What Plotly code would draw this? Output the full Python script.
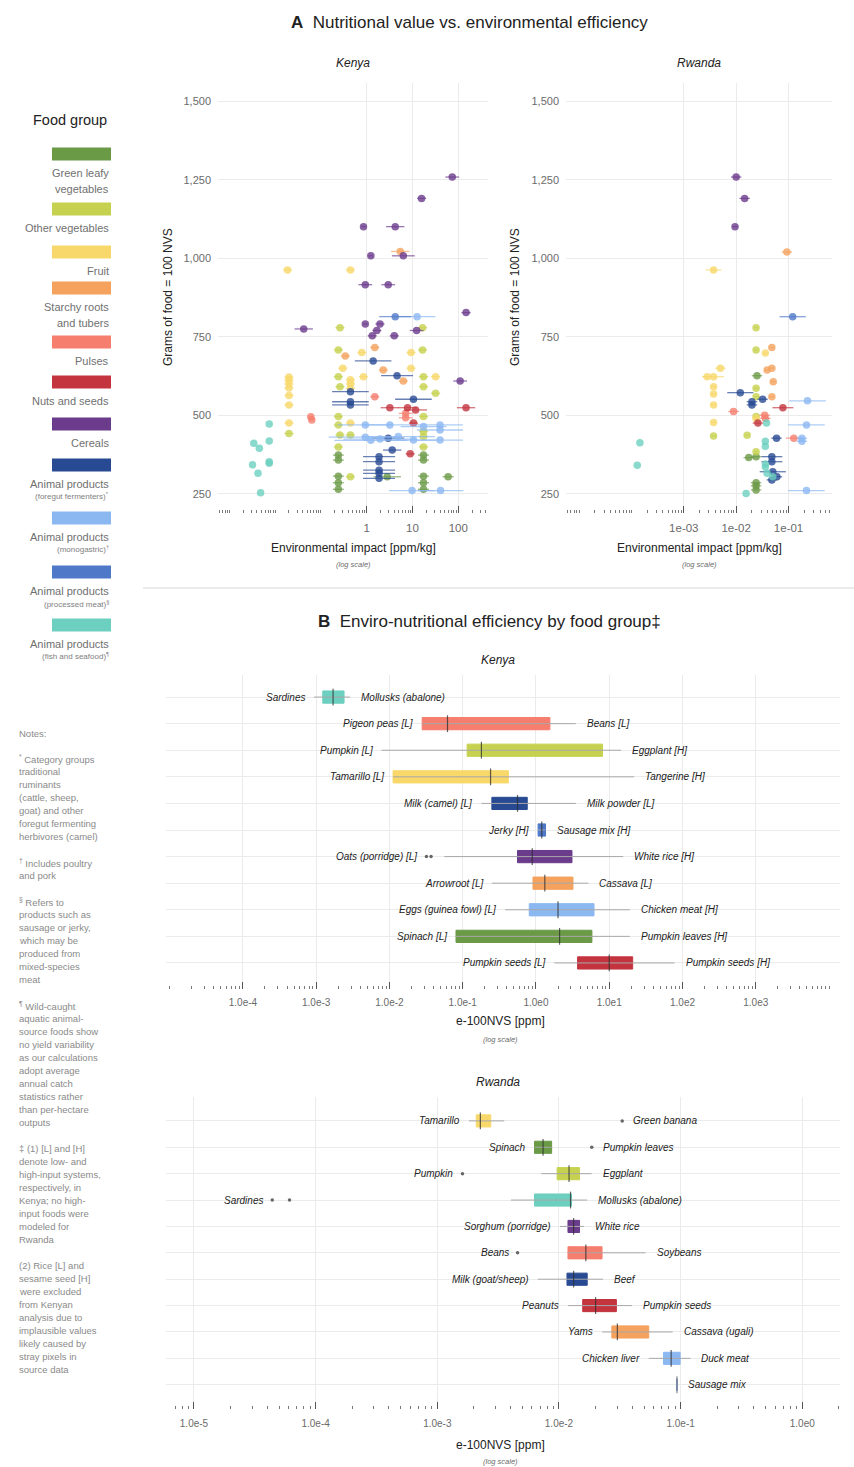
import math
import plotly.graph_objects as go

W, H = 854, 1467
FONT = "Liberation Sans"
TXT = "#222222"
GREY = "#6a6a6a"
GRID = "#ebebeb"


def PX(x):
    return x / W


def PY(y):
    return 1 - y / H


# ---------------- food groups ----------------
GROUP_KEYS = ["gl", "ov", "fr", "st", "pu", "nu", "ce", "fg", "mo", "pr", "fi"]
GROUP_COLORS = {
    "gl": "#6b9a47", "ov": "#c6d24f", "fr": "#f8d86a", "st": "#f4a25e",
    "pu": "#f57e6e", "nu": "#c3343f", "ce": "#6b3b8c", "fg": "#284a93",
    "mo": "#8cb8f2", "pr": "#4f78c8", "fi": "#6ccfbf",
}
LEGEND_MAIN = {
    "gl": ["Green leafy", "vegetables"], "ov": ["Other vegetables"], "fr": ["Fruit"],
    "st": ["Starchy roots", "and tubers"], "pu": ["Pulses"], "nu": ["Nuts and seeds"],
    "ce": ["Cereals"], "fg": ["Animal products"], "mo": ["Animal products"],
    "pr": ["Animal products"], "fi": ["Animal products"],
}
LEGEND_SUB = {
    "fg": "(foregut fermenters)<sup>*</sup>", "mo": "(monogastric)<sup>†</sup>",
    "pr": "(processed meat)<sup>§</sup>", "fi": "(fish and seafood)<sup>¶</sup>",
}

# ---------------- panel A: Kenya scatter ----------------
# environmental impact [ppm/kg], grams of food = 100 NVS, error half-width (log10 units)
kenya_impact = {
    "gl": [0.24, 0.24, 0.24, 0.24, 0.24, 17.4, 17.4, 17.4, 17.4, 17.4, 2.8, 60],
    "ov": [0.26, 0.24, 16.6, 16.6, 0.24, 17.4, 0.26, 17.4, 32, 0.24, 0.24, 17.4, 0.26,
           17.4, 0.24, 17.4, 0.44, 0.02, 0.44, 17.4],
    "fr": [0.0186, 0.44, 0.78, 9.3, 0.30, 9.3, 0.44, 0.85, 32, 0.44, 0.44, 0.02, 0.02,
           0.02, 0.02, 0.02, 0.02, 0.02, 0.44],
    "st": [5.4, 0.34, 1.5, 2.3, 6.3],
    "pu": [1.5, 7.1, 7.1, 0.06, 0.063],
    "nu": [3.2, 7.8, 11.7, 148, 10.5, 8.9],
    "ce": [74, 15.8, 0.85, 4.2, 1.23, 6.3, 0.93, 2.95, 148, 0.042, 0.93, 1.95, 1.66,
           1.32, 4.0, 12.3, 110],
    "fg": [1.38, 4.6, 0.44, 0.44, 0.44, 10.5, 2.95, 3.6, 1.86, 1.86, 1.86, 1.86, 1.86],
    "mo": [12.6, 0.93, 3.2, 17.4, 40, 40, 0.93, 1.23, 1.95, 4.9, 10.5, 40, 9.8, 41],
    "pr": [4.2],
    "fi": [0.0074, 0.0034, 0.0045, 0.0074, 0.0032, 0.0074, 0.0042, 0.0048, 0.0074],
}
kenya_grams = {
    "gl": [373, 357, 306, 285, 264, 373, 357, 306, 285, 264, 304, 304],
    "ov": [779, 708, 779, 708, 623, 623, 591, 591, 570, 496, 469, 496, 437, 432, 399,
           399, 304, 442, 437, 448],
    "fr": [963, 963, 700, 700, 650, 650, 613, 623, 623, 586, 475, 622, 612, 600, 587,
           563, 533, 475, 600],
    "st": [1022, 689, 716, 644, 609],
    "pu": [559, 506, 492, 495, 485],
    "nu": [524, 524, 517, 524, 475, 377],
    "ce": [1259, 1191, 1101, 1101, 1008, 1008, 916, 916, 827, 775, 791, 791, 770, 753,
           753, 770, 609],
    "fg": [673, 626, 575, 543, 533, 551, 427, 389, 368, 352, 325, 315, 299],
    "mo": [814, 469, 469, 464, 469, 453, 430, 420, 424, 432, 421, 421, 260, 260],
    "pr": [814],
    "fi": [472, 411, 395, 418, 342, 347, 315, 253, 352],
}
kenya_err = {
    "gl": [0.12, 0.12, 0.12, 0.12, 0.12, 0.12, 0.12, 0.12, 0.12, 0.12, 0.3, 0.12],
    "ov": [0.1] * 20,
    "fr": [0.1] * 19,
    "st": [0.2, 0.1, 0.1, 0.1, 0.1],
    "pu": [0.1, 0.15, 0.15, 0.05, 0.05],
    "nu": [0.2, 0.2, 0.25, 0.2, 0.1, 0.1],
    "ce": [0.15, 0.1, 0.05, 0.2, 0.05, 0.25, 0.15, 0.15, 0.1, 0.2, 0.05, 0.1, 0.1,
           0.1, 0.1, 0.15, 0.15],
    "fg": [0.4, 0.35, 0.4, 0.4, 0.4, 0.4, 0.35, 0.2, 0.35, 0.35, 0.35, 0.35, 0.35],
    "mo": [0.4, 0.6, 0.6, 0.5, 0.5, 0.5, 0.8, 0.8, 0.8, 0.8, 0.5, 0.5, 0.5, 0.5],
    "pr": [0.35],
    "fi": [0.0] * 9,
}

# ---------------- panel A: Rwanda scatter ----------------
rwanda_impact = {
    "gl": [0.025, 0.0174, 0.024, 0.024, 0.024, 0.024],
    "ov": [0.024, 0.024, 0.024, 0.024, 0.024, 0.0037, 0.0162, 0.024],
    "fr": [0.0037, 0.036, 0.005, 0.0037, 0.0028, 0.0037, 0.0037, 0.0037, 0.0037, 0.024],
    "st": [0.093, 0.048, 0.039, 0.048, 0.051, 0.048],
    "pu": [0.0089, 0.035, 0.036, 0.126],
    "nu": [0.078, 0.026],
    "ce": [0.010, 0.0145, 0.0095],
    "fg": [0.012, 0.020, 0.020, 0.032, 0.059, 0.048, 0.048, 0.050, 0.060, 0.048],
    "mo": [0.23, 0.22, 0.18, 0.18, 0.22],
    "pr": [0.12],
    "fi": [0.038, 0.036, 0.036, 0.000145, 0.000129, 0.036, 0.036, 0.039, 0.0155, 0.05],
}
rwanda_grams = {
    "gl": [626, 365, 368, 285, 275, 262],
    "ov": [779, 708, 586, 559, 496, 434, 436, 384],
    "fr": [963, 698, 650, 623, 623, 591, 568, 533, 477, 490],
    "st": [1020, 716, 644, 650, 607, 559],
    "pu": [512, 500, 490, 427],
    "nu": [524, 475],
    "ce": [1259, 1191, 1101],
    "fg": [572, 543, 533, 551, 427, 368, 352, 320, 304, 294],
    "mo": [546, 469, 427, 417, 260],
    "pr": [814],
    "fi": [475, 417, 401, 412, 341, 345, 335, 315, 251, 304],
}
rwanda_err = {
    "gl": [0.1] * 6,
    "ov": [0.05] * 8,
    "fr": [0.15, 0.05, 0.1, 0.2, 0.1, 0.05, 0.05, 0.05, 0.05, 0.05],
    "st": [0.1, 0.05, 0.05, 0.05, 0.05, 0.05],
    "pu": [0.1, 0.1, 0.1, 0.15],
    "nu": [0.2, 0.1],
    "ce": [0.1, 0.1, 0.05],
    "fg": [0.25, 0.1, 0.1, 0.1, 0.1, 0.2, 0.2, 0.25, 0.1, 0.1],
    "mo": [0.35, 0.35, 0.1, 0.1, 0.35],
    "pr": [0.25],
    "fi": [0.0] * 10,
}

# ---------------- panel B: e-100NVS [ppm] box summaries ----------------
ke_rows = ["fi", "pu", "ov", "fr", "fg", "pr", "ce", "st", "mo", "gl", "nu"]
ke_lo = [9.3e-4, 0.028, 0.0078, 0.0112, 0.18, 1.07, 0.056, 0.25, 0.38, 0.081, 1.78]
ke_q1 = [1.23e-3, 0.028, 0.115, 0.0112, 0.25, 1.07, 0.56, 0.91, 0.81, 0.081, 3.7]
ke_med = [1.7e-3, 0.062, 0.18, 0.24, 0.56, 1.2, 0.89, 1.32, 2.0, 2.1, 10.0]
ke_q3 = [2.4e-3, 1.55, 8.1, 0.42, 0.76, 1.35, 3.1, 3.2, 6.2, 5.8, 20.9]
ke_hi = [2.9e-3, 3.5, 14.5, 21.9, 3.5, 1.35, 15.5, 5.2, 19.1, 19.1, 78]
ke_out = [[], [], [], [], [], [], [0.032, 0.037], [], [], [], []]
ke_left = ["Sardines", "Pigeon peas [L]", "Pumpkin [L]", "Tamarillo [L]", "Milk (camel) [L]",
           "Jerky [H]", "Oats (porridge) [L]", "Arrowroot [L]", "Eggs (guinea fowl) [L]",
           "Spinach [L]", "Pumpkin seeds [L]"]
ke_right = ["Mollusks (abalone)", "Beans [L]", "Eggplant [H]", "Tangerine [H]",
            "Milk powder [L]", "Sausage mix [H]", "White rice [H]", "Cassava [L]",
            "Chicken meat [H]", "Pumpkin leaves [H]", "Pumpkin seeds [H]"]
ke_ref = 0.55

rw_rows = ["fr", "gl", "ov", "fi", "ce", "pu", "fg", "nu", "st", "mo", "pr"]
rw_lo = [0.00182, 0.0063, 0.00716, 0.00403, 0.0102, 0.01186, 0.0067, 0.01186, 0.0226, 0.0547, 0.0933]
rw_q1 = [0.00209, 0.0063, 0.00966, 0.0063, 0.01186, 0.01186, 0.01164, 0.01567, 0.0272, 0.0723, 0.0933]
rw_med = [0.00226, 0.0074, 0.0121, 0.01245, 0.0132, 0.01663, 0.0132, 0.0200, 0.0302, 0.0836, 0.0933]
rw_q3 = [0.00275, 0.0087, 0.01476, 0.01268, 0.01476, 0.0226, 0.01706, 0.02965, 0.0547, 0.0991, 0.0933]
rw_hi = [0.00355, 0.0087, 0.01858, 0.01706, 0.0161, 0.0515, 0.0230, 0.0399, 0.0859, 0.1205, 0.0933]
rw_out = [[0.0331], [0.0186], [0.00161], [4.4e-5, 6.1e-5], [], [0.00457], [], [], [], [], []]
rw_left = ["Tamarillo", "Spinach", "Pumpkin", "Sardines", "Sorghum (porridge)", "Beans",
           "Milk (goat/sheep)", "Peanuts", "Yams", "Chicken liver", ""]
rw_right = ["Green banana", "Pumpkin leaves", "Eggplant", "Mollusks (abalone)", "White rice",
            "Soybeans", "Beef", "Pumpkin seeds", "Cassava (ugali)", "Duck meat", "Sausage mix"]
rw_ref = 0.0131

NOTES = ["<sup>*</sup> Category groups", "traditional", "ruminants", "(cattle, sheep,",
         "goat) and other", "foregut fermenting", "herbivores (camel)", "",
         "<sup>†</sup> Includes poultry", "and pork", "",
         "<sup>§</sup> Refers to", "products such as", "sausage or jerky,", "which may be",
         "produced from", "mixed-species", "meat", "",
         "<sup>¶</sup> Wild-caught", "aquatic animal-", "source foods show",
         "no yield variability", "as our calculations", "adopt average", "annual catch",
         "statistics rather", "than per-hectare", "outputs", "",
         "‡ (1) [L] and [H]", "denote low- and", "high-input systems,", "respectively, in",
         "Kenya; no high-", "input foods were", "modeled for", "Rwanda", "",
         "(2) Rice [L] and", "sesame seed [H]", "were excluded", "from Kenyan",
         "analysis due to", "implausible values", "likely caused by", "stray pixels in",
         "source data"]


def hex_rgba(h, a):
    h = h.lstrip("#")
    return "rgba(%d,%d,%d,%.2f)" % (int(h[0:2], 16), int(h[2:4], 16), int(h[4:6], 16), a)


fig = go.Figure()
annotations = []
shapes = []


def add_scatter(impact, grams, err, xa, ya):
    for k in GROUP_KEYS:
        xs = impact.get(k, [])
        if not xs:
            continue
        es = err[k]
        plus = [x * (10 ** e - 1) for x, e in zip(xs, es)]
        minus = [x * (1 - 10 ** (-e)) for x, e in zip(xs, es)]
        fig.add_trace(go.Scatter(
            x=xs, y=grams[k], mode="markers", xaxis=xa, yaxis=ya,
            marker=dict(size=7.5, color=hex_rgba(GROUP_COLORS[k], 0.8)),
            error_x=dict(type="data", symmetric=False, array=plus, arrayminus=minus,
                         color=hex_rgba(GROUP_COLORS[k], 0.7), thickness=1.3, width=0),
            showlegend=False, hoverinfo="skip"))


def add_boxes(rows, lo, q1, med, q3, hi, outs, left, right, xa, ya):
    wx, wy = [], []
    for i in range(len(rows)):
        wx += [lo[i], hi[i], None]
        wy += [i, i, None]
    fig.add_trace(go.Scatter(x=wx, y=wy, mode="lines", xaxis=xa, yaxis=ya,
                             line=dict(color="#a8a8a8", width=1),
                             showlegend=False, hoverinfo="skip"))
    for i, k in enumerate(rows):
        fig.add_trace(go.Box(
            y=[i], q1=[q1[i]], median=[med[i]], q3=[q3[i]],
            lowerfence=[q1[i]], upperfence=[q3[i]], orientation="h", width=0.46,
            fillcolor=GROUP_COLORS[k], line=dict(color=GROUP_COLORS[k], width=1),
            whiskerwidth=0, boxpoints=False, xaxis=xa, yaxis=ya,
            showlegend=False, hoverinfo="skip"))
    mcol = ["rgba(140,140,140,1)" if q1[i] == q3[i] and lo[i] == hi[i] else "rgba(45,45,45,0.75)"
            for i in range(len(rows))]
    fig.add_trace(go.Scatter(
        x=med, y=list(range(len(rows))), mode="markers", xaxis=xa, yaxis=ya,
        marker=dict(symbol="line-ns", size=12, line=dict(color=mcol, width=1.2)),
        showlegend=False, hoverinfo="skip"))
    ox, oy = [], []
    for i, o in enumerate(outs):
        for v in o:
            ox.append(v)
            oy.append(i)
    if ox:
        fig.add_trace(go.Scatter(x=ox, y=oy, mode="markers", xaxis=xa, yaxis=ya,
                                 marker=dict(size=3.5, color="#666666"),
                                 showlegend=False, hoverinfo="skip"))
    for i in range(len(rows)):
        lmin = min([lo[i]] + outs[i])
        rmax = max([hi[i]] + outs[i])
        if left[i]:
            annotations.append(dict(
                x=math.log10(lmin), y=i, xref=xa, yref=ya, text="<i>%s</i>" % left[i],
                showarrow=False, xanchor="right", yanchor="middle", xshift=-7,
                font=dict(family=FONT, size=10, color=TXT)))
        if right[i]:
            annotations.append(dict(
                x=math.log10(rmax), y=i, xref=xa, yref=ya, text="<i>%s</i>" % right[i],
                showarrow=False, xanchor="left", yanchor="middle", xshift=9,
                font=dict(family=FONT, size=10, color=TXT)))


add_scatter(kenya_impact, kenya_grams, kenya_err, "x", "y")
add_scatter(rwanda_impact, rwanda_grams, rwanda_err, "x2", "y2")
add_boxes(ke_rows, ke_lo, ke_q1, ke_med, ke_q3, ke_hi, ke_out, ke_left, ke_right, "x3", "y3")
add_boxes(rw_rows, rw_lo, rw_q1, rw_med, rw_q3, rw_hi, rw_out, rw_left, rw_right, "x4", "y4")

# reference lines
for xa, ya, ref in [("x3", "y3", ke_ref), ("x4", "y4", rw_ref)]:
    shapes.append(dict(type="line", xref=xa, yref=ya + " domain", x0=math.log10(ref),
                       x1=math.log10(ref), y0=0, y1=1, line=dict(color="#555555", width=1)))


def minor_vals(e0, e1, skip=()):
    out = []
    for e in range(e0, e1 + 1):
        for m in range(1, 10):
            v = m * 10.0 ** e
            if m == 1 and e in skip:
                continue
            out.append(v)
    return out


tickfont = dict(family=FONT, size=11, color=GREY)


def log_axis(domain, rng, tv, tt, minors, anchor, fsize=11, standoff=4):
    return dict(domain=domain, type="log", range=rng, tickvals=tv, ticktext=tt,
                ticks="inside", ticklen=7, tickcolor="#555555", tickwidth=1,
                showgrid=True, gridcolor=GRID, gridwidth=1, zeroline=False, showline=False,
                tickfont=dict(family=FONT, size=fsize, color=GREY), ticklabelstandoff=standoff,
                minor=dict(tickmode="array", tickvals=minors, ticks="inside", ticklen=3.5,
                           tickcolor="#7a7a7a", tickwidth=1, showgrid=False),
                anchor=anchor, fixedrange=True)


sc_y = dict(range=[188.5, 1558.7], tickvals=[250, 500, 750, 1000, 1250, 1500],
            tickformat=",", showgrid=True, gridcolor=GRID, zeroline=False, showline=False,
            ticks="", tickfont=tickfont, ticklabelstandoff=6, fixedrange=True)

layout = dict(
    width=W, height=H, margin=dict(l=0, r=0, t=0, b=0),
    paper_bgcolor="white", plot_bgcolor="white", showlegend=False,
    font=dict(family=FONT, color=TXT),
    xaxis=log_axis([PX(218), PX(488)], [-3.25, 2.65], [1, 10, 100], ["1", "10", "100"],
                   minor_vals(-4, 3, skip=(0, 1, 2)), "y", 11.5, 6),
    yaxis=dict(domain=[PY(513), PY(83)], anchor="x", **sc_y),
    xaxis2=log_axis([PX(566), PX(832)], [-5.25, -0.17], [1e-3, 1e-2, 1e-1],
                    ["1e-03", "1e-02", "1e-01"], minor_vals(-6, 0, skip=(-3, -2, -1)), "y2", 11.5, 6),
    yaxis2=dict(domain=[PY(513), PY(83)], anchor="x2", **sc_y),
    xaxis3=log_axis([PX(166), PX(840)], [-5.05, 4.15], [10.0 ** e for e in range(-4, 4)],
                    ["1.0e%d" % e for e in range(-4, 4)], minor_vals(-6, 4, skip=tuple(range(-4, 4))),
                    "y3", 10, 6),
    yaxis3=dict(domain=[PY(989), PY(675)], range=[10.98, -0.83], tickvals=list(range(11)),
                showticklabels=False, showgrid=True, gridcolor=GRID, zeroline=False,
                showline=False, ticks="", anchor="x3", fixedrange=True),
    xaxis4=log_axis([PX(166), PX(840)], [-5.23, 0.31], [10.0 ** e for e in range(-5, 1)],
                    ["1.0e%d" % e for e in range(-5, 1)], minor_vals(-6, 1, skip=tuple(range(-5, 1))),
                    "y4", 10, 7),
    yaxis4=dict(domain=[PY(1409), PY(1097)], range=[10.92, -0.906], tickvals=list(range(11)),
                showticklabels=False, showgrid=True, gridcolor=GRID, zeroline=False,
                showline=False, ticks="", anchor="x4", fixedrange=True),
)


def txt(x, y, text, size, color=TXT, xanchor="center", angle=0, yanchor="middle"):
    annotations.append(dict(x=PX(x), y=PY(y), xref="paper", yref="paper", text=text,
                            showarrow=False, xanchor=xanchor, yanchor=yanchor, textangle=angle,
                            font=dict(family=FONT, size=size, color=color)))


# titles
txt(289, 22, "<b>A</b>  Nutritional value vs. environmental efficiency", 17, xanchor="left")
txt(316, 621, "<b>B</b>  Enviro-nutritional efficiency by food group‡", 17, xanchor="left")
txt(353, 63, "<i>Kenya</i>", 12)
txt(699, 63, "<i>Rwanda</i>", 12)
txt(498, 660, "<i>Kenya</i>", 12)
txt(498, 1082, "<i>Rwanda</i>", 12)

# axis titles
for cx in (353, 699):
    txt(cx, 548, "Environmental impact [ppm/kg]", 12)
    txt(cx, 565, "<i>(log scale)</i>", 7.5, GREY)
txt(168, 297, "Grams of food = 100 NVS", 12, angle=-90)
txt(515, 297, "Grams of food = 100 NVS", 12, angle=-90)
txt(500, 1021, "e-100NVS [ppm]", 12)
txt(500, 1039, "<i>(log scale)</i>", 7.5, GREY)
txt(500, 1445, "e-100NVS [ppm]", 12)
txt(500, 1461, "<i>(log scale)</i>", 7.5, GREY)

# legend
txt(70, 120, "Food group", 14.5)
swatch_y = [154, 209, 252, 288, 342, 382, 424, 465, 518, 572, 625]
for k, sy in zip(GROUP_KEYS, swatch_y):
    shapes.append(dict(type="rect", xref="paper", yref="paper", x0=PX(52), x1=PX(111),
                       y0=PY(sy + 6.5), y1=PY(sy - 6.5), fillcolor=GROUP_COLORS[k],
                       line=dict(width=0)))
    ly = sy + 19
    for line in LEGEND_MAIN[k]:
        txt(111, ly, line, 11, "#707070", xanchor="right")
        ly += 15.5
    if k in LEGEND_SUB:
        txt(111, ly - 3, LEGEND_SUB[k], 8, "#808080", xanchor="right")

# notes
txt(17, 733, "Notes:", 9.5, "#8a8a8a", xanchor="left")
ny = 759
for line in NOTES:
    if line:
        txt(17, ny, line, 9.5, "#8a8a8a", xanchor="left")
    ny += 12.98

# separator between panels
shapes.append(dict(type="line", xref="paper", yref="paper", x0=PX(143), x1=PX(854),
                   y0=PY(588), y1=PY(588), line=dict(color="#d6d6d6", width=1)))

layout["annotations"] = annotations
layout["shapes"] = shapes
fig.update_layout(**layout)
fig.write_html("out.html", config={"displayModeBar": False},
               post_script="document.body.style.margin='0';document.body.style.overflow='hidden';")
